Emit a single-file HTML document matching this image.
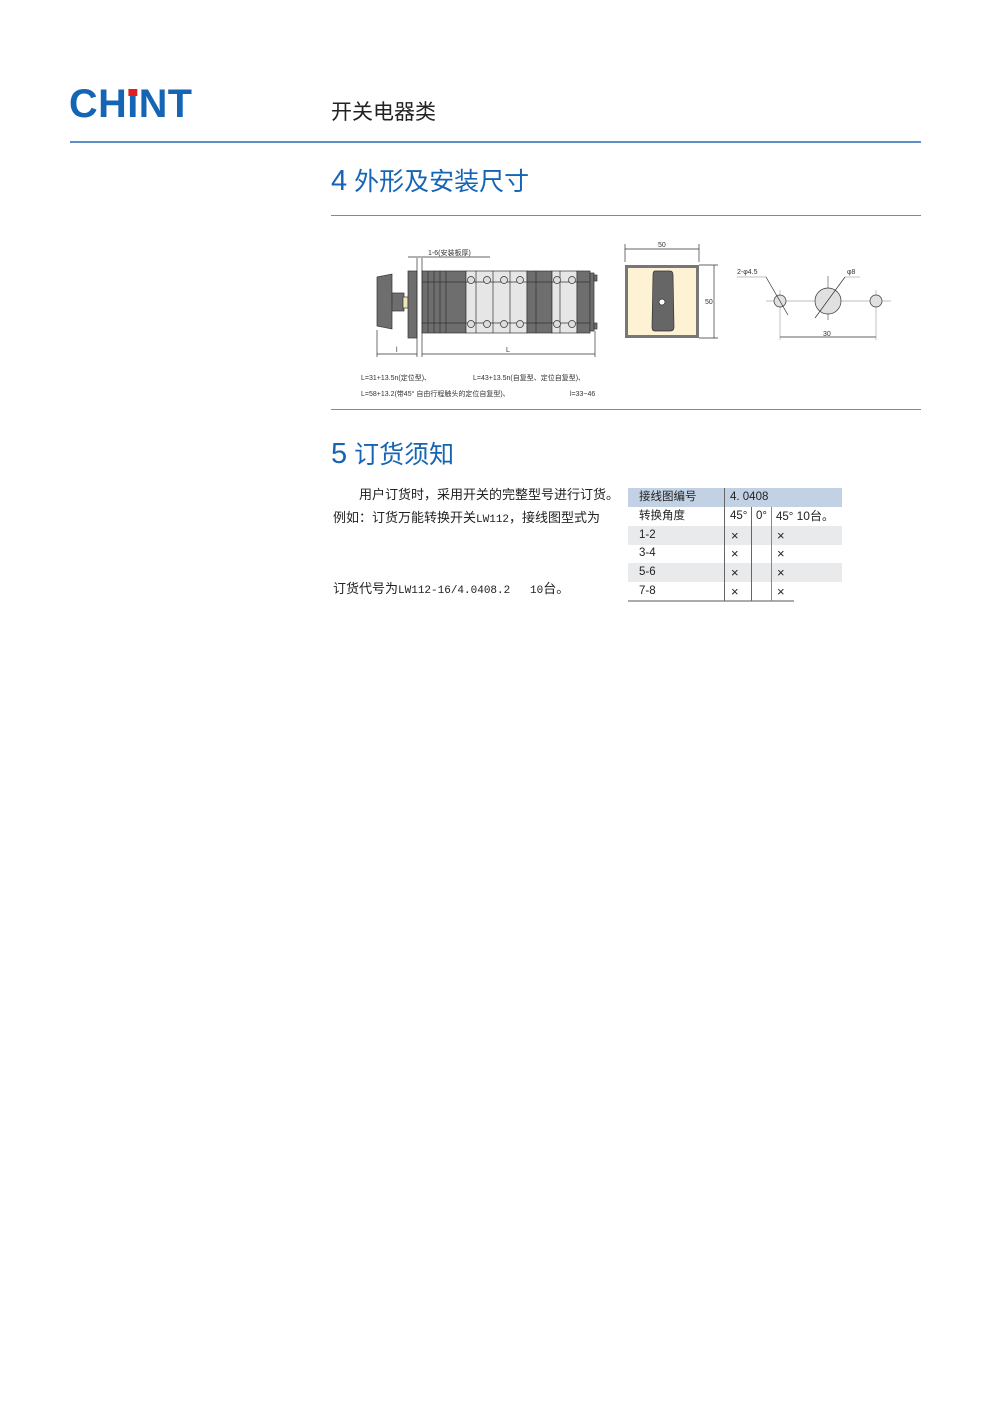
<!DOCTYPE html>
<html><head><meta charset="utf-8"><style>
body{margin:0;width:992px;height:1403px;background:#fff;position:relative;font-family:"Liberation Sans","Noto Sans CJK SC",sans-serif;color:#222;overflow:hidden}
.a{position:absolute;white-space:nowrap}
.m{font-family:"Liberation Mono","Noto Sans CJK SC",monospace}
.l{font-size:11px}
.cell{position:absolute;font-size:11.5px;line-height:19px}
</style></head><body>
<div class="a" style="left:69px;top:82px;font-size:40px;font-weight:bold;color:#1565b4;letter-spacing:0.5px;font-family:'Liberation Sans',sans-serif;transform:scaleX(0.99);transform-origin:left">CH<span style="position:relative">I<span style="position:absolute;left:1px;top:7px;width:9px;height:7px;background:#e02020"></span></span>NT</div>
<div class="a" style="left:331px;top:96px;font-size:21px;color:#222">开关电器类</div>
<div class="a" style="left:70px;top:141px;width:851px;height:2px;background:#5d8fc6"></div>
<div class="a" style="left:331px;top:162px;font-size:25px;color:#1565b4"><span style="font-size:29px">4</span> 外形及安装尺寸</div>
<div class="a" style="left:331px;top:215px;width:590px;height:1px;background:#888"></div>
<div class="a" style="left:331px;top:409px;width:590px;height:1px;background:#888"></div>

<svg class="a" style="left:0;top:0" width="992" height="620">
<g stroke="#333" stroke-width="0.7" fill="none">
<polygon points="377,277 392,274 392,329 377,326" fill="#6e6e6e"/>
<rect x="392" y="293" width="12" height="18" fill="#6e6e6e"/>
<rect x="403" y="297" width="5" height="11" fill="#f2e6b8"/>
<rect x="408" y="271" width="9" height="67" fill="#6e6e6e"/>
<rect x="422" y="271" width="44" height="62" fill="#6e6e6e"/>
<rect x="466" y="271" width="61" height="62" fill="#e6e6e6"/>
<rect x="527" y="271" width="25" height="62" fill="#6e6e6e"/>
<rect x="552" y="271" width="25" height="62" fill="#e6e6e6"/>
<rect x="577" y="271" width="13" height="62" fill="#6e6e6e"/>
<rect x="590" y="273" width="4" height="58" fill="#6e6e6e"/>
<rect x="594" y="275" width="3" height="6" fill="#6e6e6e"/>
<rect x="594" y="323" width="3" height="6" fill="#6e6e6e"/>
<line x1="428" y1="271" x2="428" y2="333"/><line x1="434" y1="271" x2="434" y2="333"/><line x1="440" y1="271" x2="440" y2="333"/><line x1="446" y1="271" x2="446" y2="333"/>
<line x1="422" y1="282" x2="590" y2="282"/><line x1="422" y1="323" x2="590" y2="323"/>
<line x1="476" y1="271" x2="476" y2="333"/><line x1="493" y1="271" x2="493" y2="333"/><line x1="510" y1="271" x2="510" y2="333"/>
<line x1="560" y1="271" x2="560" y2="333"/><line x1="536" y1="271" x2="536" y2="333"/>
<g fill="#ddd"><circle cx="471" cy="280" r="3.5"/><circle cx="487" cy="280" r="3.5"/><circle cx="504" cy="280" r="3.5"/><circle cx="520" cy="280" r="3.5"/><circle cx="557" cy="280" r="3.5"/><circle cx="572" cy="280" r="3.5"/>
<circle cx="471" cy="324" r="3.5"/><circle cx="487" cy="324" r="3.5"/><circle cx="504" cy="324" r="3.5"/><circle cx="520" cy="324" r="3.5"/><circle cx="557" cy="324" r="3.5"/><circle cx="572" cy="324" r="3.5"/></g>
<line x1="377" y1="330" x2="377" y2="357"/><line x1="417" y1="258" x2="417" y2="357"/><line x1="422" y1="258" x2="422" y2="357"/><line x1="595" y1="331" x2="595" y2="357"/>
<line x1="377" y1="354" x2="417" y2="354"/><line x1="422" y1="354" x2="595" y2="354"/>
<line x1="408" y1="257" x2="490" y2="257"/>
<line x1="625" y1="249" x2="699" y2="249"/><line x1="625" y1="244" x2="625" y2="262"/><line x1="699" y1="244" x2="699" y2="262"/>
<line x1="699" y1="265" x2="718" y2="265"/><line x1="699" y1="338" x2="718" y2="338"/><line x1="714" y1="265" x2="714" y2="338"/>
<rect x="626.5" y="266.5" width="71" height="70" fill="#fdf3d4" stroke="#777" stroke-width="3"/>
<path d="M655,271 h15 q3,0 3,4 l1,52 q0,4 -4,4 h-15 q-3,0 -3,-4 l1,-52 q0,-4 2,-4z" fill="#666"/>
<circle cx="662" cy="302" r="3" fill="#fff"/>
<line x1="766" y1="301" x2="891" y2="301" stroke="#aaa"/>
<line x1="780" y1="290" x2="780" y2="340" stroke="#aaa"/><line x1="876" y1="290" x2="876" y2="340" stroke="#aaa"/><line x1="828" y1="276" x2="828" y2="320" stroke="#666"/>
<circle cx="780" cy="301" r="6" fill="#e0e0e0"/><circle cx="828" cy="301" r="13" fill="#e0e0e0"/><circle cx="876" cy="301" r="6" fill="#e0e0e0"/>
<line x1="780" y1="337" x2="876" y2="337"/>
<line x1="737" y1="277" x2="766" y2="277" stroke="#aaa"/><line x1="766" y1="277" x2="788" y2="315"/>
<line x1="845" y1="277" x2="860" y2="277" stroke="#aaa"/><line x1="845" y1="277" x2="815" y2="318"/>
</g>
<g font-size="7" fill="#333" font-family="Liberation Sans,Noto Sans CJK SC,sans-serif">
<text x="428" y="255">1-6(安装板厚)</text>
<text x="396" y="352">l</text><text x="506" y="352">L</text>
<text x="658" y="247">50</text><text x="705" y="304">50</text>
<text x="737" y="274">2-φ4.5</text><text x="847" y="274">φ8</text><text x="823" y="336">30</text>
<text x="361" y="380">L=31+13.5n(定位型)、</text><text x="473" y="380">L=43+13.5n(自复型、定位自复型)、</text>
<text x="361" y="396">L=58+13.2(带45° 自由行程触头的定位自复型)、</text><text x="570" y="396">l=33~46</text>
</g>
</svg>

<div class="a" style="left:331px;top:435px;font-size:25px;color:#1565b4"><span style="font-size:29px">5</span> 订货须知</div>
<div class="a m" style="left:359px;top:484px;font-size:13px">用户订货时，采用开关的完整型号进行订货。</div>
<div class="a m" style="left:333px;top:507px;font-size:13px">例如：订货万能转换开关<span class="l">LW112</span>，接线图型式为</div>
<div class="a m" style="left:333px;top:578px;font-size:13px">订货代号为<span class="l">LW112-16/4.0408.2&nbsp;&nbsp;&nbsp;10</span>台。</div>

<div class="a" style="left:628px;top:488px;width:214px;height:19px;background:#c2d2e4"></div>
<div class="a" style="left:628px;top:526px;width:214px;height:19px;background:#e8eaec"></div>
<div class="a" style="left:628px;top:563px;width:214px;height:19px;background:#e8eaec"></div>
<div class="a" style="left:628px;top:600px;width:166px;height:2px;background:#aaa"></div>
<div class="a" style="left:724px;top:488px;width:1px;height:113px;background:#666"></div>
<div class="a" style="left:751px;top:507px;width:1px;height:94px;background:#666"></div>
<div class="a" style="left:771px;top:507px;width:1px;height:94px;background:#888"></div>
<div class="cell" style="left:639px;top:488px">接线图编号</div><div class="cell" style="left:730px;top:488px">4. 0408</div>
<div class="cell" style="left:639px;top:507px">转换角度</div><div class="cell" style="left:730px;top:507px">45°</div><div class="cell" style="left:756px;top:507px">0°</div><div class="cell" style="left:776px;top:507px">45° <span style="font-size:12px">10台。</span></div>
<div class="cell" style="left:639px;top:526px">1-2</div><div class="cell" style="left:731px;top:526px;font-size:13px">×</div><div class="cell" style="left:777px;top:526px;font-size:13px">×</div>
<div class="cell" style="left:639px;top:544px">3-4</div><div class="cell" style="left:731px;top:544px;font-size:13px">×</div><div class="cell" style="left:777px;top:544px;font-size:13px">×</div>
<div class="cell" style="left:639px;top:563px">5-6</div><div class="cell" style="left:731px;top:563px;font-size:13px">×</div><div class="cell" style="left:777px;top:563px;font-size:13px">×</div>
<div class="cell" style="left:639px;top:582px">7-8</div><div class="cell" style="left:731px;top:582px;font-size:13px">×</div><div class="cell" style="left:777px;top:582px;font-size:13px">×</div>
</body></html>
